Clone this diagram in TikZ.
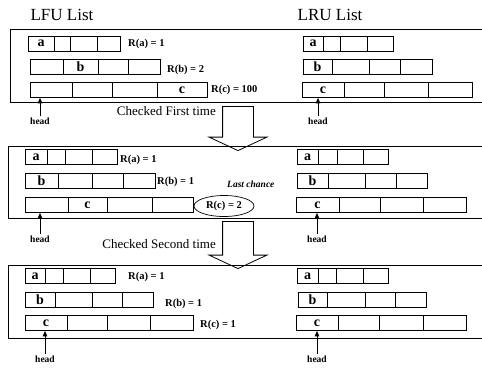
\documentclass[tikz,border=0pt]{standalone}
\usepackage{fontspec}
\setmainfont{Liberation Serif}
\usepackage{tikz}
\usetikzlibrary{shapes.geometric, shapes.arrows, arrows.meta, positioning}

\tikzstyle{cell} = [rectangle, draw=black, line width=0.7pt, inner sep=0pt, minimum height=15pt, font=\fontsize{14}{14}\selectfont\bfseries]
\tikzstyle{rlabel} = [anchor=west, inner sep=0pt, font=\fontsize{10.5}{12}\selectfont\bfseries]
\tikzstyle{headlabel} = [inner sep=1pt, font=\fontsize{9.5}{10}\selectfont\bfseries]
\tikzstyle{headarrow} = [line width=0.8pt, -{Triangle[length=5.5pt, width=4.5pt]}]
\tikzstyle{panel} = [line width=0.8pt]
\tikzstyle{checkarrow} = [single arrow, draw=black, fill=white, line width=0.8pt, shape border rotate=270, inner sep=15pt, single arrow head extend=13.5pt, single arrow tip angle=130]
\tikzstyle{checktext} = [anchor=east, inner sep=0pt, font=\fontsize{13}{15}\selectfont]
\tikzstyle{title} = [inner sep=0pt, font=\fontsize{17}{20}\selectfont]

% one row of a list: name, y of its middle, cells as left/right/letter
\newcommand{\listrow}[3]{%
  \foreach \xa/\xb/\lt [count=\i] in {#3} {
    \pgfmathsetmacro{\cw}{\xb-\xa}
    \node[cell, minimum width=\cw pt] (#1-\i) at ({(\xa+\xb)/2}, #2) {\lt};
  }
}

\begin{document}
\begin{tikzpicture}[x=1pt, y=-1pt]
  \useasboundingbox (0,0) rectangle (482,368);

  \node[title] (lfutitle) at (62,15) {LFU List};
  \node[title] (lrutitle) at (330,15) {LRU List};

  % before the check
  \draw[panel] (484,29) -- (10,29) -- (10,102) -- (484,102);
  \listrow{lfuA}{43.5}{28/54/a, 54/70/, 70/97/, 97/120/}
  \listrow{lfuB}{67}{30/63/, 63/98/b, 98/128/, 128/160/}
  \listrow{lfuC}{90}{30/72/, 72/112/, 112/157/, 157/207/c}
  \listrow{lruA}{43.5}{303/323/a, 323/340/, 340/367/, 367/393/}
  \listrow{lruB}{67}{303/332/b, 332/369/, 369/400/, 400/432/}
  \listrow{lruC}{90}{302/344/c, 344/384/, 384/428/, 428/472/}
  \node[rlabel] (ra1) at (128,44) {R(a) = 1};
  \node[rlabel] (rb1) at (167,70) {R(b) = 2};
  \node[rlabel] (rc1) at (211,90) {R(c) = 100};
  \node[headlabel] (lfuhead1) at (40,121) {head};
  \node[headlabel] (lruhead1) at (318,121) {head};
  \draw[headarrow] (lfuhead1.north) -- (lfuhead1.north |- lfuC-1.south);
  \draw[headarrow] (lruhead1.north) -- (lruhead1.north |- lruC-1.south);

  \node[checktext] (check1) at (216,111) {Checked First time};
  \node[checkarrow, minimum height=44pt] (step1) at (238,125) {};

  % after the first check
  \draw[panel] (484,146) -- (8,146) -- (8,218) -- (484,218);
  \listrow{lfuA2}{157}{25/47/a, 47/65/, 65/92/, 92/117/}
  \listrow{lfuB2}{181}{25/58/b, 58/92/, 92/123/, 123/155/}
  \listrow{lfuC2}{205}{25/68/, 68/107/c, 107/152/, 152/193/}
  \listrow{lruA2}{157}{297/318/a, 318/337/, 337/363/, 363/388/}
  \listrow{lruB2}{181}{297/328/b, 328/365/, 365/396/, 396/427/}
  \listrow{lruC2}{205}{296/339/c, 339/380/, 380/423/, 423/466/}
  \node[rlabel] (ra2) at (120,160) {R(a) = 1};
  \node[rlabel] (rb2) at (157,182) {R(b) = 1};
  \node[rlabel, font=\fontsize{9.5}{10}\selectfont\bfseries\itshape] (last) at (227,184) {Last chance};
  \node[ellipse, draw=black, line width=0.7pt, inner sep=1pt, minimum width=60pt, minimum height=21pt, font=\fontsize{10.5}{12}\selectfont\bfseries] (rc2) at (224,206) {R(c) = 2};
  \node[headlabel] (lfuhead2) at (40,239) {head};
  \node[headlabel] (lruhead2) at (317,239) {head};
  \draw[headarrow] (lfuhead2.north) -- (lfuhead2.north |- lfuC2-1.south);
  \draw[headarrow] (lruhead2.north) -- (lruhead2.north |- lruC2-1.south);

  \node[checktext] (check2) at (216,244) {Checked Second time};
  \node[checkarrow, minimum height=47pt] (step2) at (238,241.5) {};

  % after the second check
  \draw[panel] (484,265) -- (8,265) -- (8,338) -- (484,338);
  \listrow{lfuA3}{276}{25/45/a, 45/63/, 63/90/, 90/115/}
  \listrow{lfuB3}{300}{25/55/b, 55/92/, 92/122/, 122/153/}
  \listrow{lfuC3}{323}{25/67/c, 67/107/, 107/150/, 150/193/}
  \listrow{lruA3}{276}{297/318/a, 318/336/, 336/363/, 363/388/}
  \listrow{lruB3}{300}{298/327/b, 327/365/, 365/395/, 395/426/}
  \listrow{lruC3}{323}{296/338/c, 338/379/, 379/423/, 423/466/}
  \node[rlabel] (ra3) at (128,277) {R(a) = 1};
  \node[rlabel] (rb3) at (165,304) {R(b) = 1};
  \node[rlabel] (rc3) at (200,325) {R(c) = 1};
  \node[headlabel] (lfuhead3) at (45,359) {head};
  \node[headlabel] (lruhead3) at (317,359) {head};
  \draw[headarrow] (lfuhead3.north) -- (lfuhead3.north |- lfuC3-1.south);
  \draw[headarrow] (lruhead3.north) -- (lruhead3.north |- lruC3-1.south);
\end{tikzpicture}
\end{document}
